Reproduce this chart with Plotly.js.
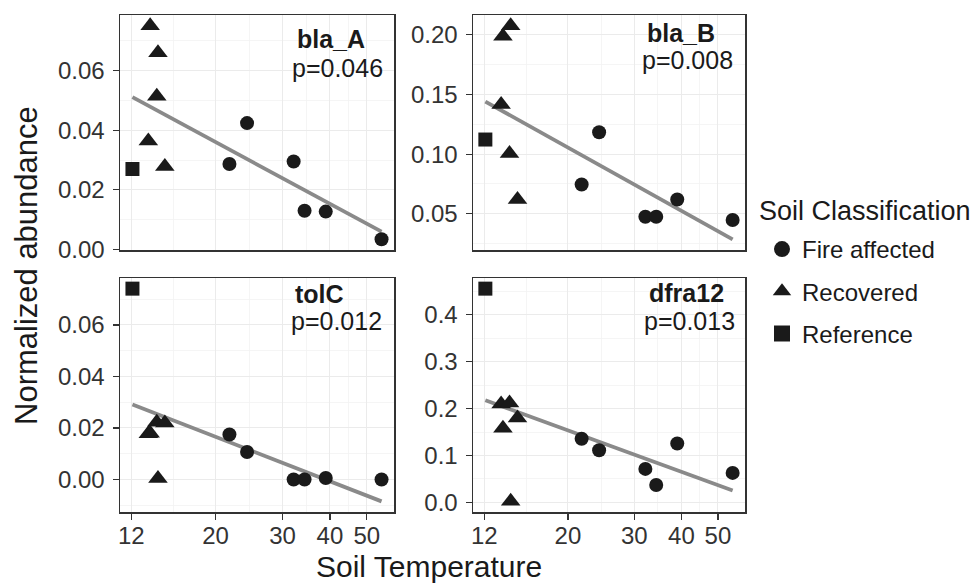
<!DOCTYPE html>
<html><head><meta charset="utf-8">
<script src="https://cdn.plot.ly/plotly-3.0.1.min.js"></script>
<style>html,body{margin:0;padding:0;background:#fff}#chart{width:979px;height:583px}</style>
</head><body><div id="chart"></div>
<script>
// ---- data ----
const soilTemperature = [12.08, 13.3, 13.45, 14.0, 14.1, 14.7, 21.75, 24.2, 32.1, 34.3, 39.0, 54.7];
const soilClass = ['Reference', 'Recovered', 'Recovered', 'Recovered', 'Recovered', 'Recovered',
  'Fire affected', 'Fire affected', 'Fire affected', 'Fire affected', 'Fire affected', 'Fire affected'];
const genes = ['bla_A', 'bla_B', 'tolC', 'dfra12'];
const pValues = ['p=0.046', 'p=0.008', 'p=0.012', 'p=0.013'];
const blaA = [0.0270, 0.0364, 0.0751, 0.0514, 0.0660, 0.0278, 0.0287, 0.0424, 0.0295, 0.0130, 0.0127, 0.0034];
const blaB = [0.1122, 0.1415, 0.1986, 0.1005, 0.2075, 0.0620, 0.0746, 0.1183, 0.0476, 0.0476, 0.0620, 0.0448];
const tolC = [0.0741, 0.0178, 0.0180, 0.0222, 0.0004, 0.0219, 0.0175, 0.0107, 0.0000, 0.0000, 0.0006, 0.0000];
const dfra12 = [0.456, 0.210, 0.158, 0.212, 0.002, 0.180, 0.1355, 0.111, 0.0713, 0.037, 0.1255, 0.0627];
const classOrder = ['Fire affected', 'Recovered', 'Reference'];
const xTickVals = [12, 20, 30, 40, 50];
const yTicksBlaA = [0, 0.02, 0.04, 0.06];
const yTicksBlaB = [0.05, 0.10, 0.15, 0.20];
const yTicksTolC = [0, 0.02, 0.04, 0.06];
const yTicksDfra12 = [0, 0.1, 0.2, 0.3, 0.4];

// ---- styling ----
const geneValues = [blaA, blaB, tolC, dfra12];
const yTicks = [yTicksBlaA, yTicksBlaB, yTicksTolC, yTicksDfra12];
const yFormats = ['.2f', '.2f', '.2f', '.1f'];
const symbols = {'Fire affected': 'circle', 'Recovered': 'triangle-up', 'Reference': 'square'};
const sizes = {'Fire affected': 14, 'Recovered': 17, 'Reference': 14};
const FONT = 'Liberation Sans, Arial, Helvetica, sans-serif';
const INK = '#1a1a1a';
const W = 979, H = 583;
const colDom = [[120, 394], [473, 745]];
const rowDom = [[15, 250], [278, 512]];
// label centers (px) for gene name and p-value
const labelPos = [
  {g: [331, 39], p: [337, 68]},
  {g: [681, 33], p: [687, 60]},
  {g: [319, 294], p: [336, 321]},
  {g: [686, 293], p: [689, 321]}
];

function fit(xs, ys) {
  const L = xs.map(Math.log10);
  const n = L.length;
  const mx = L.reduce((a, b) => a + b, 0) / n;
  const my = ys.reduce((a, b) => a + b, 0) / n;
  let sxy = 0, sxx = 0;
  for (let i = 0; i < n; i++) { sxy += (L[i] - mx) * (ys[i] - my); sxx += (L[i] - mx) ** 2; }
  const slope = sxy / sxx;
  return x => my + slope * (Math.log10(x) - mx);
}
function expand(lo, hi) { const d = (hi - lo) * 0.05; return [lo - d, hi + d]; }

const xMin = Math.min(...soilTemperature), xMax = Math.max(...soilTemperature);
const xRange = expand(Math.log10(xMin), Math.log10(xMax));
const xMinor = xTickVals.slice(1).map((v, i) => Math.sqrt(v * xTickVals[i]));

const traces = [];
const layout = {
  width: W, height: H,
  margin: {l: 0, r: 0, t: 0, b: 0},
  paper_bgcolor: '#fff', plot_bgcolor: '#fff',
  font: {family: FONT, color: INK},
  showlegend: true,
  legend: {
    x: 762 / W, xanchor: 'left', y: 1 - 227 / H, yanchor: 'top',
    font: {size: 24, color: INK},
    bgcolor: 'rgba(0,0,0,0)', tracegroupgap: 8, itemsizing: 'trace'
  },
  annotations: [],
  shapes: []
};

genes.forEach((gene, i) => {
  const row = Math.floor(i / 2), col = i % 2;
  const suf = i === 0 ? '' : String(i + 1);
  const xa = 'x' + suf, ya = 'y' + suf;
  const ys = geneValues[i];
  const f = fit(soilTemperature, ys);
  const lineY = [f(xMin), f(xMax)];
  const yr = expand(Math.min(...ys, ...lineY), Math.max(...ys, ...lineY));
  const tv = yTicks[i];
  const step = tv[1] - tv[0];
  const minorY = [tv[0] - step / 2].concat(tv.map(v => v + step / 2));

  traces.push({
    type: 'scatter', mode: 'lines', x: [xMin, xMax], y: lineY, xaxis: xa, yaxis: ya,
    line: {color: '#8a8a8a', width: 3.8}, showlegend: false, hoverinfo: 'skip'
  });
  classOrder.forEach(cls => {
    const idx = soilClass.map((c, k) => c === cls ? k : -1).filter(k => k >= 0);
    traces.push({
      type: 'scatter', mode: 'markers', name: cls, legendgroup: cls,
      showlegend: false,
      x: idx.map(k => soilTemperature[k]), y: idx.map(k => ys[k]),
      xaxis: xa, yaxis: ya,
      marker: {symbol: symbols[cls], size: sizes[cls], color: INK, line: {width: 0}}
    });
  });

  layout['xaxis' + suf] = {
    domain: [colDom[col][0] / W, colDom[col][1] / W], anchor: ya,
    type: 'log', range: xRange,
    tickmode: 'array', tickvals: xTickVals, ticktext: xTickVals.map(String),
    showticklabels: row === 1, ticks: row === 1 ? 'outside' : '', ticklen: 6, tickwidth: 1.2, tickcolor: '#333',
    ticklabelstandoff: -4,
    tickfont: {size: 24, color: '#333'},
    showgrid: true, gridcolor: '#ebebeb', gridwidth: 1,
    minor: {tickmode: 'array', tickvals: xMinor, showgrid: true, gridcolor: '#f3f3f3', gridwidth: 0.8, ticks: ''},
    showline: true, mirror: true, linecolor: '#333', linewidth: 1.5, zeroline: false
  };
  layout['yaxis' + suf] = {
    domain: [1 - rowDom[row][1] / H, 1 - rowDom[row][0] / H], anchor: xa,
    range: yr, tickmode: 'array', tickvals: tv, tickformat: yFormats[i],
    ticks: 'outside', ticklen: 6, tickwidth: 1.2, tickcolor: '#333',
    ticklabelstandoff: 3,
    tickfont: {size: 24, color: '#333'},
    showgrid: true, gridcolor: '#ebebeb', gridwidth: 1,
    minor: {tickmode: 'array', tickvals: minorY, showgrid: true, gridcolor: '#f3f3f3', gridwidth: 0.8, ticks: ''},
    showline: true, mirror: true, linecolor: '#333', linewidth: 1.5, zeroline: false
  };

  const lp = labelPos[i];
  layout.annotations.push({
    xref: 'paper', yref: 'paper', x: lp.g[0] / W, y: 1 - lp.g[1] / H,
    xanchor: 'center', yanchor: 'middle', showarrow: false,
    text: '<b>' + gene + '</b>', font: {size: 25, color: INK, family: FONT}
  });
  layout.annotations.push({
    xref: 'paper', yref: 'paper', x: lp.p[0] / W, y: 1 - lp.p[1] / H,
    xanchor: 'center', yanchor: 'middle', showarrow: false,
    text: pValues[i], font: {size: 25, color: INK, family: FONT}
  });
});

// legend entries (one per class, no data of their own)
classOrder.forEach(cls => {
  traces.push({
    type: 'scatter', mode: 'markers', name: cls, legendgroup: cls, showlegend: true,
    x: [null], y: [null], xaxis: 'x', yaxis: 'y', hoverinfo: 'skip',
    marker: {symbol: symbols[cls], size: 16, color: INK, line: {width: 0}}
  });
});

layout.annotations.push({
  xref: 'paper', yref: 'paper', x: 757 / W, y: 1 - 211 / H, xanchor: 'left', yanchor: 'middle',
  showarrow: false, text: 'Soil Classification', font: {size: 27, color: INK, family: FONT}
});
layout.annotations.push({
  xref: 'paper', yref: 'paper', x: 429 / W, y: 1 - 566 / H, xanchor: 'center', yanchor: 'middle',
  showarrow: false, text: 'Soil Temperature', font: {size: 30, color: INK, family: FONT}
});
layout.annotations.push({
  xref: 'paper', yref: 'paper', x: 26 / W, y: 1 - 266 / H, xanchor: 'center', yanchor: 'middle',
  textangle: -90, showarrow: false, text: 'Normalized abundance', font: {size: 31, color: INK, family: FONT}
});

Plotly.newPlot('chart', traces, layout, {staticPlot: true, displayModeBar: false});
</script>
</body></html>
